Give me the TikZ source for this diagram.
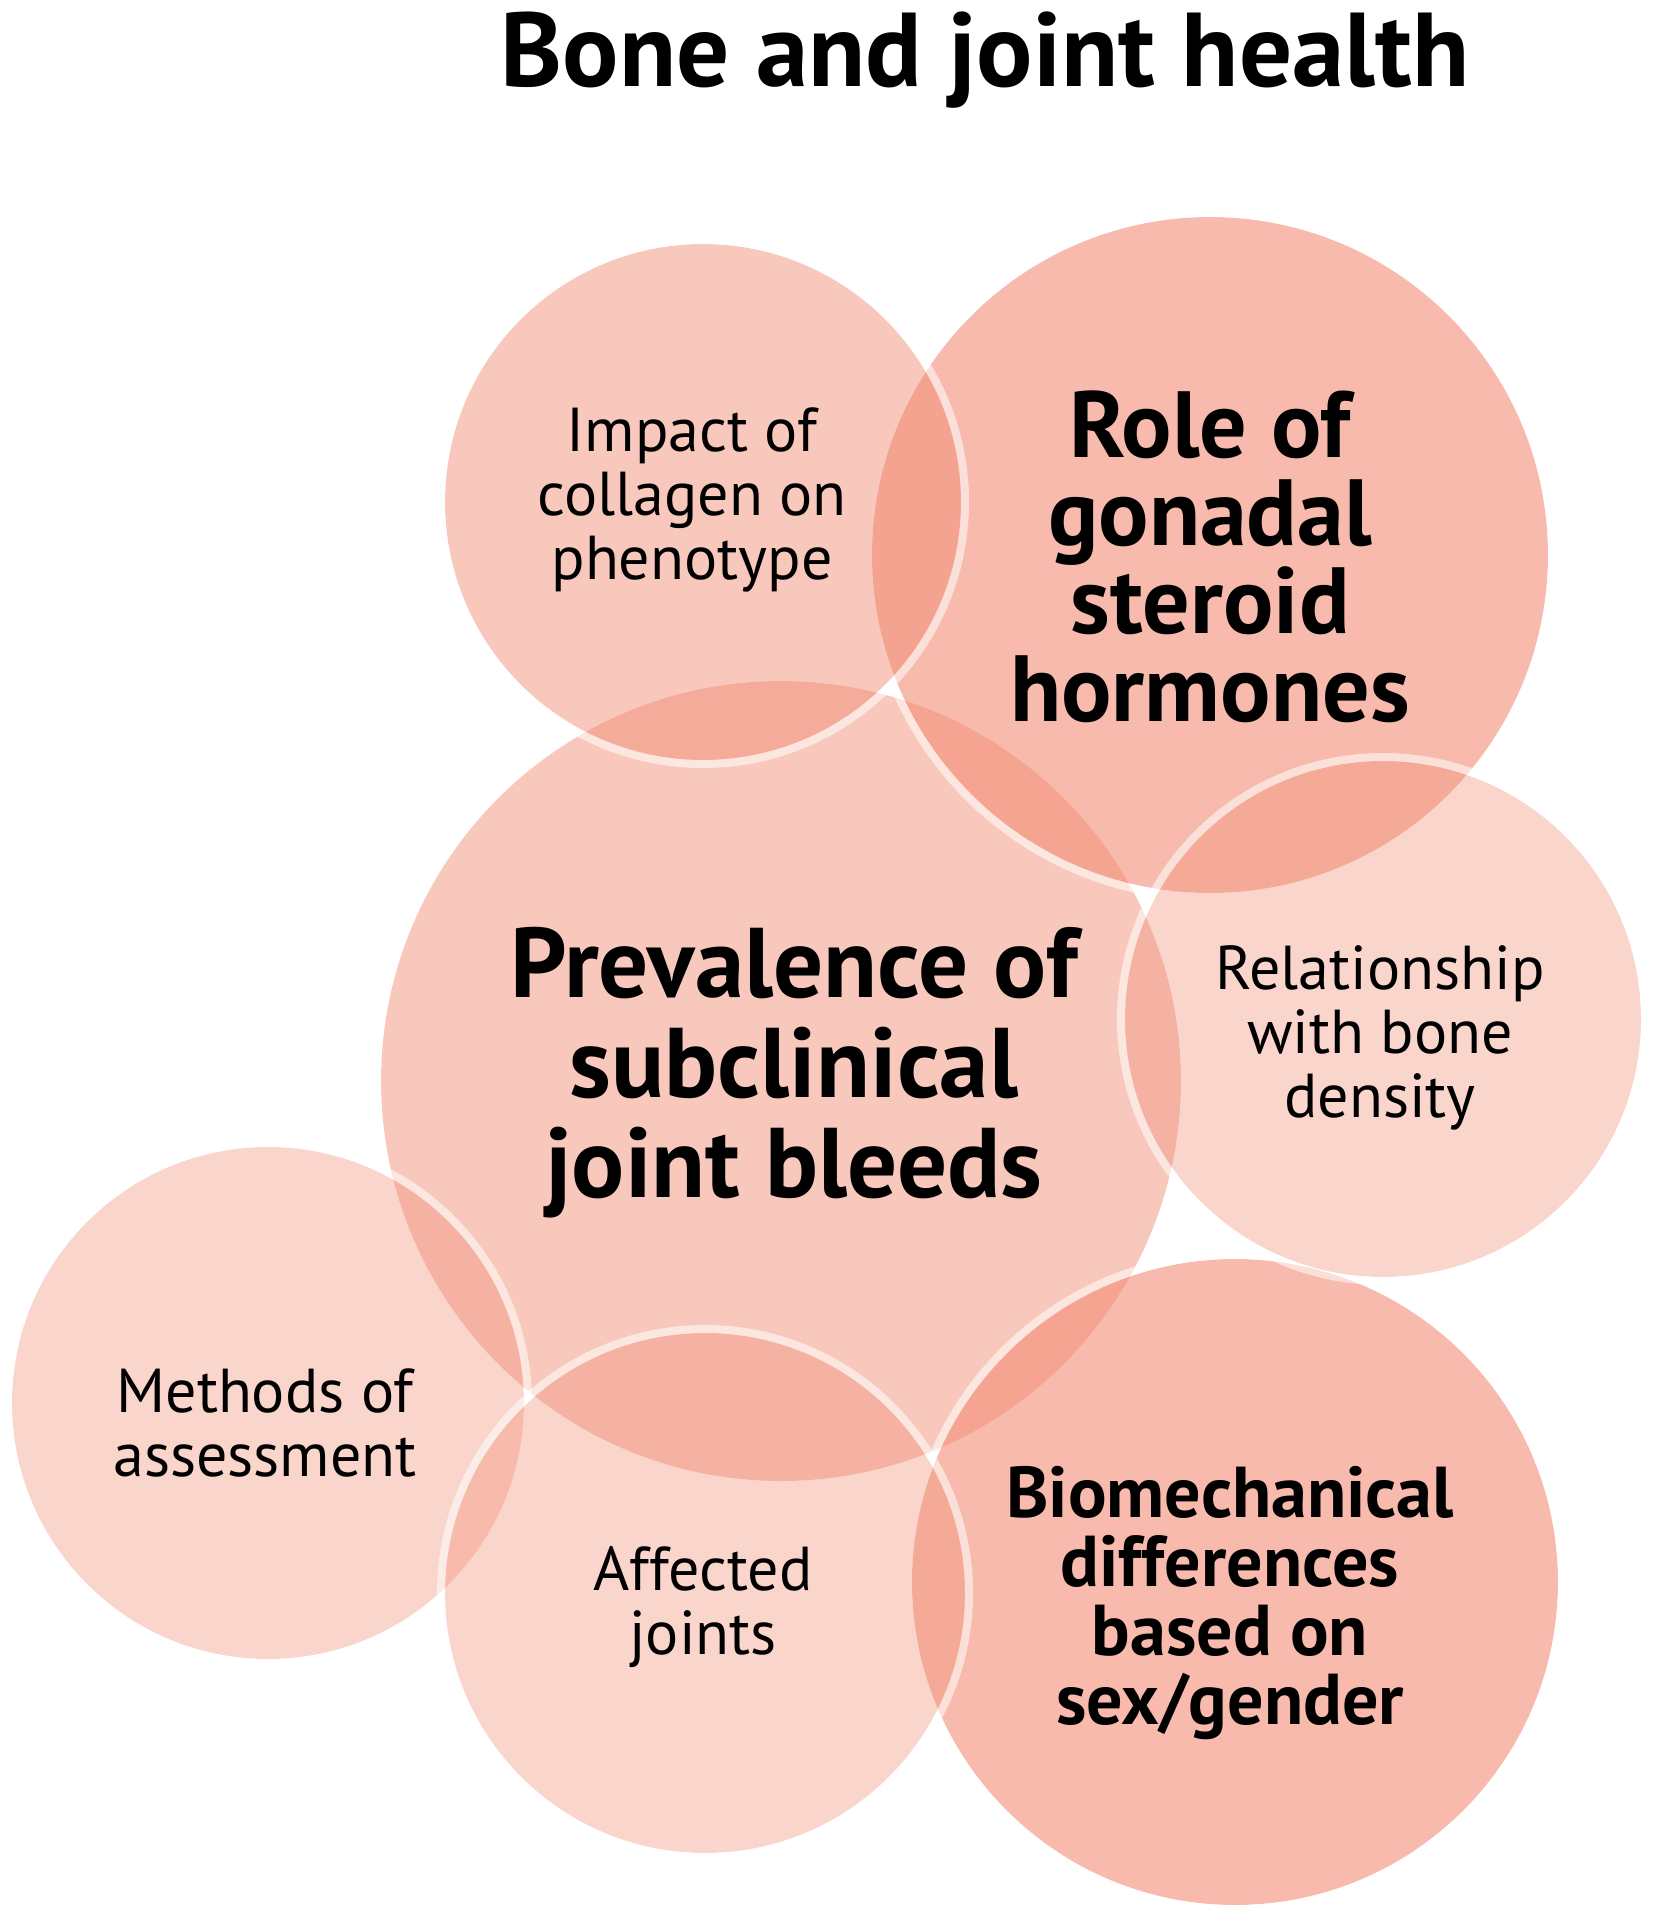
\documentclass[tikz,border=0pt]{standalone}
\usepackage{fontspec}
\setmainfont{PT Sans}
\definecolor{salmon}{RGB}{242,139,114}
\tikzset{
  ring/.style={draw=white, draw opacity=0.55, line width=8pt},
  lbl/.style={align=center, text=black, inner sep=0pt},
  reg/.style={lbl, font=\fontsize{62}{64}\selectfont},
}
\newcommand\bubble[4]{%
  \fill[salmon, fill opacity=#4] (#1,#2) circle[radius=#3];
  \draw[ring] (#1,#2) circle[radius=#3+4];
}
\begin{document}
\begin{tikzpicture}[x=1pt,y=-1pt]
\useasboundingbox (0,0) rectangle (1659,1920);
\fill[white] (0,0) rectangle (1659,1920);
% order matters: later rings show over earlier discs
\bubble{781}{1081}{400}{0.47}   % prevalence
\bubble{1210}{555}{338}{0.59}   % gonadal
\bubble{1235}{1582}{323}{0.59}  % biomech
\bubble{268}{1403}{256}{0.36}   % methods
\bubble{703}{502}{258}{0.47}    % impact
\bubble{1383}{1019}{258}{0.36}  % relationship
\bubble{705}{1593}{260}{0.36}   % affected

\node[lbl, font=\bfseries\fontsize{105}{110}\selectfont, anchor=base] (title) at (985,86) {Bone and joint health};
\node[reg] (impact) at (692,500) {Impact of\\collagen on\\phenotype};
\node[lbl, font=\bfseries\fontsize{94}{88}\selectfont] (gonadal) at (1210,557) {Role of\\gonadal\\steroid\\hormones};
\node[lbl, font=\bfseries\fontsize{99}{100}\selectfont] (prev) at (794,1073) {Prevalence of\\subclinical\\joint bleeds};
\node[reg] (rel) at (1380,1038) {Relationship\\with bone\\density};
\node[reg] (meth) at (265,1423) {Methods of\\assessment};
\node[reg] (aff) at (703,1607) {Affected\\joints};
\node[lbl, font=\bfseries\fontsize{72}{69}\selectfont] (bio) at (1230,1603) {Biomechanical\\differences\\based on\\sex/gender};
\end{tikzpicture}
\end{document}
